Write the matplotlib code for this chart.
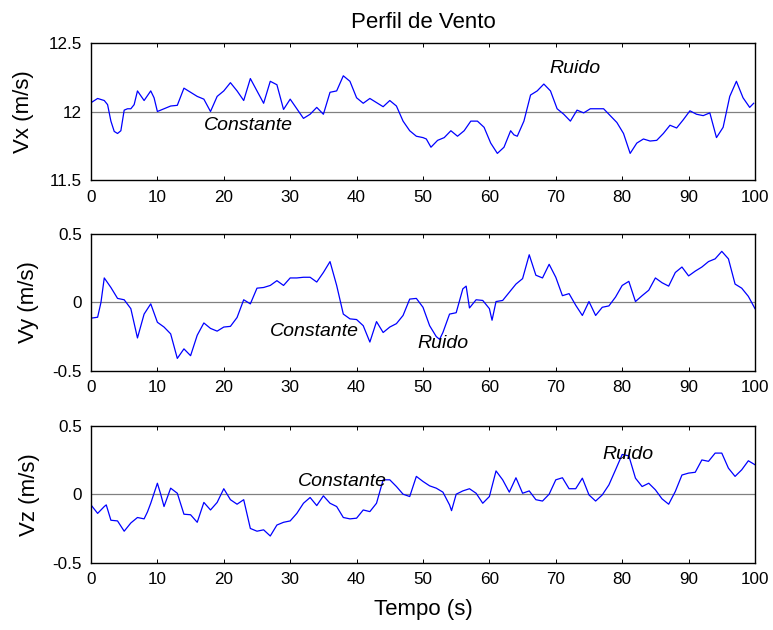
import matplotlib
matplotlib.use("Agg")
import matplotlib.pyplot as plt

plt.rcParams['font.family'] = ['Liberation Sans', 'DejaVu Sans']

# -----------------------------
# dados
# -----------------------------
vx_const = 12.0
vy_const = 0.0
vz_const = 0.0

tx = [0, 1, 2, 2.5, 3, 3.5, 4, 4.5, 5, 5.5, 6, 6.5, 7, 8, 9, 9.5, 10, 11, 12, 13,
      14, 15, 16, 17, 18, 19, 20, 21, 22, 23, 24, 25, 26, 27, 28, 29, 30, 31, 32, 33,
      34, 35, 36, 37, 38, 39, 40, 41, 42, 43, 44, 45, 46, 47, 48, 49, 50, 50.5,
      51.2, 52.2, 53.2, 54.2, 55.2, 56.2, 57.2, 58.2, 59.2, 60.2, 61.2, 62.2, 63.2,
      63.7, 64.2, 65.2, 66.2, 67.2, 68.2, 69.2, 70.2, 71.2, 72.2, 73.2, 74.2, 75.2,
      76.2, 77.2, 78.2, 79.2, 80.2, 81.2, 82.2, 83.2, 84.2, 85.2, 86.2, 87.2, 88.2,
      89.2, 90.2, 91.2, 92.2, 93.2, 94.2, 95.2, 96.2, 97.2, 98.2, 99.2, 99.8]
vx = [12.064, 12.095, 12.08, 12.05, 11.93, 11.855, 11.84, 11.86, 12.01, 12.02,
      12.02, 12.05, 12.15, 12.08, 12.15, 12.10, 12.0, 12.02, 12.04, 12.045,
      12.17, 12.14, 12.11, 12.09, 12.0, 12.11, 12.15, 12.21, 12.15, 12.08,
      12.24, 12.15, 12.06, 12.22, 12.195, 12.015, 12.09, 12.02, 11.95, 11.98,
      12.03, 11.98, 12.14, 12.15, 12.26, 12.22, 12.10, 12.06, 12.095, 12.065,
      12.035, 12.08, 12.04, 11.93, 11.86, 11.82, 11.81, 11.80,
      11.74, 11.79, 11.81, 11.86, 11.82, 11.86, 11.93, 11.93, 11.885, 11.77,
      11.695, 11.74, 11.86, 11.83, 11.82, 11.93, 12.12, 12.15, 12.20, 12.15,
      12.02, 11.98, 11.93, 12.01, 11.99, 12.02, 12.02, 12.02, 11.97, 11.92,
      11.84, 11.695, 11.77, 11.80, 11.785, 11.79, 11.84, 11.90, 11.88, 11.94,
      12.005, 11.98, 11.97, 11.99, 11.81, 11.885, 12.11, 12.22, 12.10, 12.03, 12.06]

ty = [0, 1, 1.5, 2, 3, 4, 5, 6, 7, 8, 9, 10, 11, 12, 13, 14, 15, 16, 17, 18, 19,
      20, 21, 22, 23, 24, 25, 26, 27, 28, 29, 30, 31, 32, 33, 34, 35, 36, 37, 38,
      39, 40, 41, 42, 43, 44, 45, 46, 47, 48, 49, 50, 51, 52, 52.5, 53, 54, 55,
      56, 56.5, 57, 58, 59, 60, 60.4, 61, 62, 63, 64, 65, 66, 67, 68, 69, 70, 71,
      72, 73, 74, 75, 76, 77, 78, 79, 80, 81, 82, 83, 84, 85, 86, 87, 88, 89, 90,
      91, 92, 93, 94, 95, 96, 97, 98, 99, 100]
vy = [-0.115, -0.108, 0.0, 0.18, 0.11, 0.03, 0.02, -0.045, -0.26, -0.085,
      -0.01, -0.145, -0.18, -0.23, -0.41, -0.34, -0.39, -0.24, -0.15, -0.19,
      -0.21, -0.18, -0.175, -0.11, 0.02, -0.01, 0.105, 0.11, 0.125, 0.16,
      0.125, 0.18, 0.18, 0.185, 0.185, 0.15, 0.22, 0.30, 0.125, -0.085,
      -0.12, -0.125, -0.17, -0.29, -0.14, -0.22, -0.18, -0.155, -0.095, 0.025,
      0.03, -0.035, -0.17, -0.25, -0.27, -0.22, -0.085, -0.075, 0.10, 0.12,
      -0.04, 0.02, 0.015, -0.045, -0.13, 0.007, 0.015, 0.075, 0.135, 0.175,
      0.35, 0.20, 0.18, 0.28, 0.185, 0.05, 0.065, -0.02, -0.095, 0.007,
      -0.095, -0.035, -0.025, 0.04, 0.125, 0.155, 0.007, 0.05, 0.09, 0.18,
      0.145, 0.12, 0.22, 0.26, 0.195, 0.23, 0.26, 0.30, 0.32, 0.375,
      0.32, 0.135, 0.105, 0.045, -0.045]

tz = [0, 1, 2, 2.3, 3, 4, 5, 6, 7, 8, 8.5, 9, 10, 10.5, 11, 12, 13, 14, 15, 16,
      17, 18, 19, 20, 21, 22, 23, 24, 25, 26, 27, 28, 29, 30, 31, 32, 33, 34, 35,
      36, 37, 38, 39, 40, 41, 42, 43, 44, 45, 46, 47, 48, 49, 50, 51, 52, 53, 54,
      54.3, 55, 56, 57, 58, 59, 60, 61, 62, 63, 64, 65, 66, 67, 68, 69, 70, 71, 72,
      73, 74, 75, 76, 77, 78, 79, 80, 81, 82, 83, 84, 85, 86, 87, 88, 89, 90, 91,
      92, 93, 94, 95, 96, 97, 98, 99, 100]
vz = [-0.078, -0.14, -0.09, -0.078, -0.19, -0.195, -0.27, -0.21, -0.17, -0.18,
      -0.13, -0.066, 0.08, 0.0, -0.09, 0.044, 0.007, -0.146, -0.15, -0.205,
      -0.06, -0.115, -0.06, 0.04, -0.04, -0.073, -0.04, -0.25, -0.27, -0.26,
      -0.305, -0.225, -0.205, -0.195, -0.14, -0.066, -0.024, -0.083, -0.012,
      -0.066, -0.09, -0.17, -0.18, -0.175, -0.115, -0.127, -0.066, 0.105,
      0.105, 0.056, 0.0, -0.017, 0.13, 0.093, 0.061, 0.044, 0.015, -0.078,
      -0.12, 0.0, 0.024, 0.04, 0.007, -0.066, -0.017, 0.17, 0.105, 0.015,
      0.12, 0.007, 0.024, -0.04, -0.05, 0.0, 0.105, 0.12, 0.04, 0.04,
      0.117, -0.005, -0.05, -0.005, 0.068, 0.178, 0.29, 0.28, 0.117, 0.056,
      0.08, 0.032, -0.034, -0.073, 0.02, 0.14, 0.154, 0.16, 0.25, 0.24,
      0.30, 0.30, 0.19, 0.13, 0.178, 0.244, 0.215]

x_ticks = [0, 10, 20, 30, 40, 50, 60, 70, 80, 90, 100]
ylabels = ['Vx (m/s)', 'Vy (m/s)', 'Vz (m/s)']
ylims = [(11.5, 12.5), (-0.5, 0.5), (-0.5, 0.5)]
yticks = [[11.5, 12, 12.5], [-0.5, 0, 0.5], [-0.5, 0, 0.5]]
ytick_labels = [['11.5', '12', '12.5'], ['-0.5', '0', '0.5'], ['-0.5', '0', '0.5']]

# (x, y) das anotacoes "Constante" e "Ruido"
pos_const = [(17.0, 11.90), (27.0, -0.216), (31.1, 0.091)]
pos_ruido = [(69.1, 12.31), (49.2, -0.304), (77.0, 0.293)]

# -----------------------------
# figura
# -----------------------------
fig = plt.figure(figsize=(7.73, 6.30), dpi=100)
posicoes = [[0.1177, 0.714, 0.859, 0.218],
            [0.1177, 0.4116, 0.859, 0.2165],
            [0.1177, 0.1068, 0.859, 0.2175]]
label_x = [-0.101, -0.094, -0.093]

series = [(tx, vx, vx_const), (ty, vy, vy_const), (tz, vz, vz_const)]

for i, (t, v, c) in enumerate(series):
    ax = fig.add_axes(posicoes[i])
    ax.plot([x_ticks[0], x_ticks[-1]], [c, c], color='#808080', lw=0.9)
    ax.plot(t, v, color='#0000ff', lw=0.9)

    ax.set_xlim(0, 100)
    ax.set_ylim(*ylims[i])
    ax.set_xticks(x_ticks)
    ax.set_yticks(yticks[i])
    ax.set_yticklabels(ytick_labels[i])
    ax.tick_params(direction='in', length=3, width=0.7, top=True, right=True,
                   labelsize=12.3)
    ax.tick_params(axis='x', pad=7)
    ax.tick_params(axis='y', pad=6.5)
    for s in ax.spines.values():
        s.set_linewidth(1.0)

    ax.set_ylabel(ylabels[i], fontsize=16, va='center')
    ax.yaxis.set_label_coords(label_x[i], 0.5)

    ax.text(pos_const[i][0], pos_const[i][1], 'Constante', fontsize=14,
            style='italic', ha='left', va='center')
    ax.text(pos_ruido[i][0], pos_ruido[i][1], 'Ruido', fontsize=14,
            style='italic', ha='left', va='center')

    if i == 0:
        ax.set_title('Perfil de Vento', fontsize=16, pad=11)
    if i == 2:
        ax.set_xlabel('Tempo (s)', fontsize=16, va='center')
        ax.xaxis.set_label_coords(0.5, -0.345)

fig.savefig('out.png', dpi=100)
